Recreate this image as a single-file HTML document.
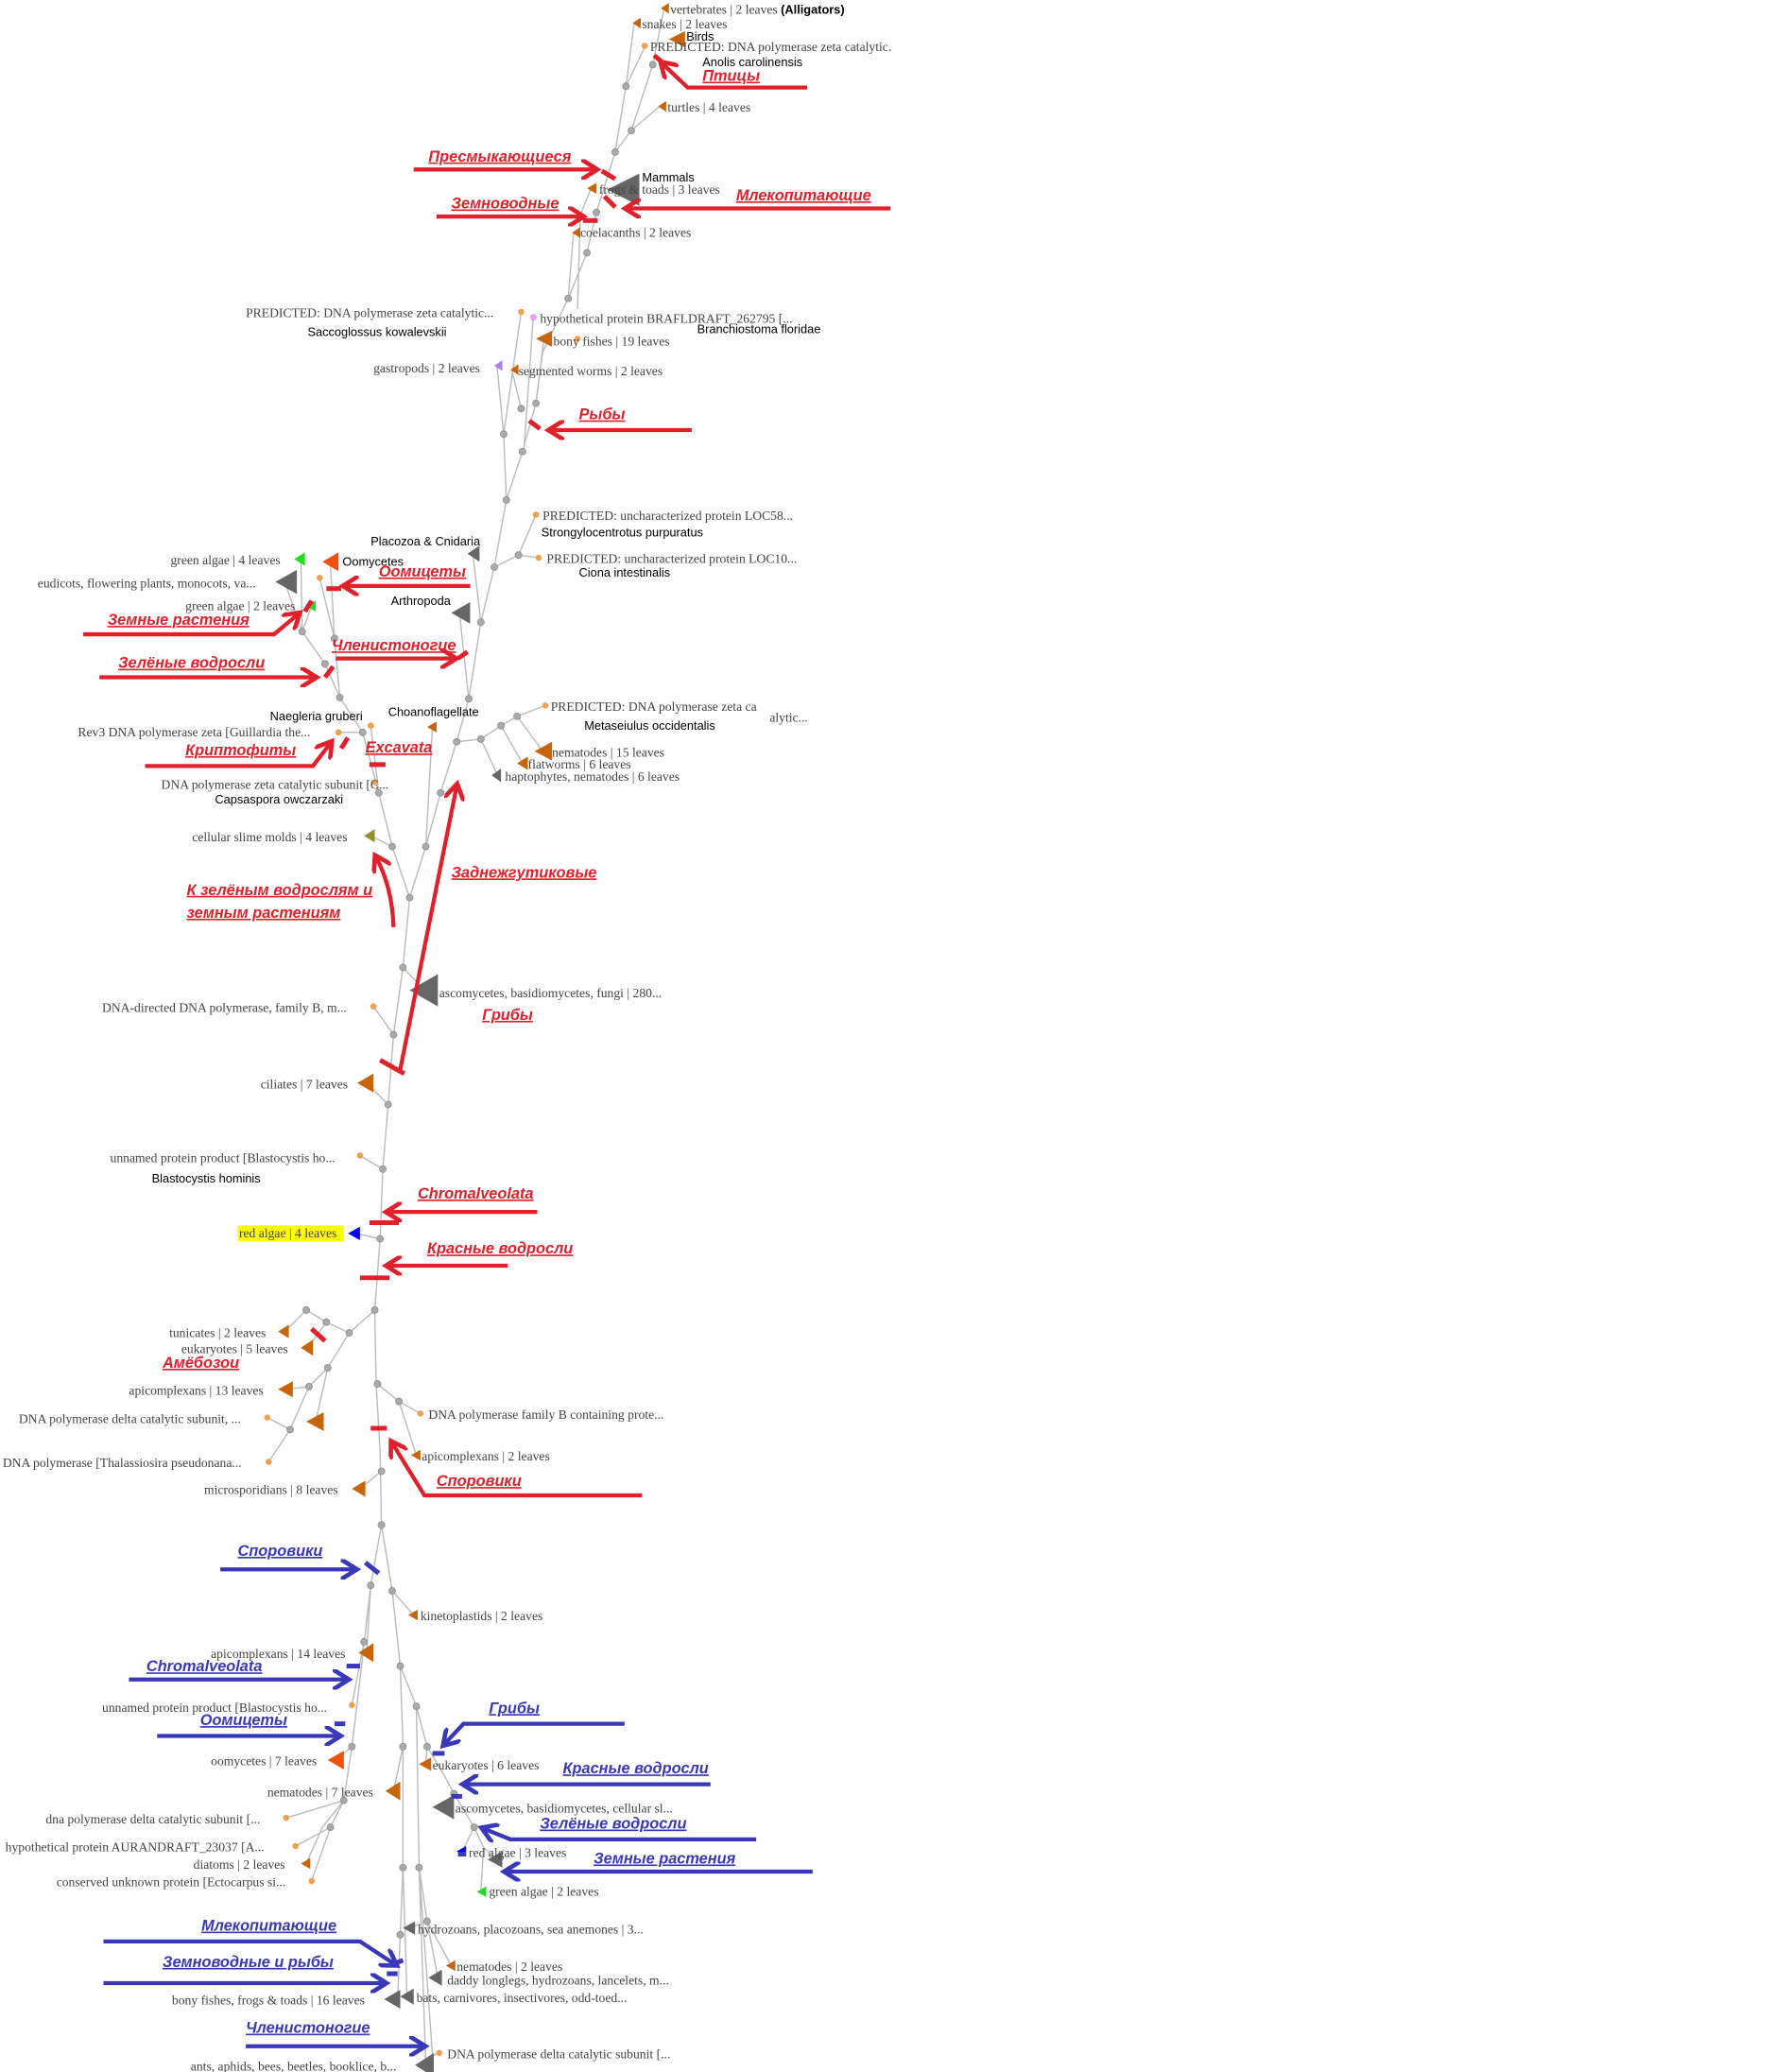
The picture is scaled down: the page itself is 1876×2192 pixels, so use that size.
<!DOCTYPE html>
<html><head><meta charset="utf-8"><style>
html,body{margin:0;padding:0;background:#fff;}
svg{display:block;}
.t{font-family:"Liberation Serif",serif;font-size:9.6px;fill:#444;}
.b{font-family:"Liberation Sans",sans-serif;font-size:9px;fill:#000;}
.r{font-family:"Liberation Sans",sans-serif;font-size:11.5px;font-weight:bold;font-style:italic;fill:#e0202a;text-decoration:underline;}
.u{font-family:"Liberation Sans",sans-serif;font-size:11.5px;font-weight:bold;font-style:italic;fill:#3838b8;text-decoration:underline;}
.ln{stroke:#bbb;stroke-width:1;fill:none;}
.ra{stroke:#e0202a;stroke-width:3;fill:none;}
.ba{stroke:#3838b8;stroke-width:3;fill:none;}
.rd{stroke:#e0202a;stroke-width:3.5;}
.bd{stroke:#3838b8;stroke-width:3.5;}
</style></head><body>
<svg width="1876" height="2192" viewBox="0 0 1320 1542" xmlns="http://www.w3.org/2000/svg">
<defs>
<marker id="mr" markerWidth="5" markerHeight="5" refX="3.4" refY="2.5" orient="auto" markerUnits="strokeWidth"><path d="M0,0 L4,2.5 L0,5" fill="none" stroke="#e0202a" stroke-width="1.1"/></marker>
<marker id="mb" markerWidth="5" markerHeight="5" refX="3.4" refY="2.5" orient="auto" markerUnits="strokeWidth"><path d="M0,0 L4,2.5 L0,5" fill="none" stroke="#3838b8" stroke-width="1.1"/></marker>
</defs>
<path class="ln" d="M494,8 L486,48 L470,97 L458,113 M472,18 L466,64 L458,113 M480,35 L466,64 M491,79 L470,97 M458,113 L444,158 L437,188 L423,222 L404,262 M440,140 L432,160 L430,230 M427,173 L423,222
M404,262 L399,300 L389,336 L377,372 L368,422 L358,463 L349,520 L340,552 L328,590 L317,630 L305,668 L300,720 L293,770 L289,822 L285,870 L283,922 L279,975 L280,1030 L283,1080 L284,1135
M388,232 L375,323 L377,372 M397,236 L390,336 M381,275 L388,304 M405,252 L399,300 M370,272 L375,323
M368,422 L386,413 L399,383 M386,413 L401,415 M352,412 L358,463 M342,455 L349,520
M224,416 L225,470 L242,494 L253,519 M212,433 L225,470 M232,451 L225,470 M246,420 L249,475 L253,519 M238,430 L249,475 M253,519 L270,545 L282,590 L292,630 L305,668 M252,545 L270,545 M276,540 L282,590
M340,552 L358,550 L373,540 L385,533 L406,525 M373,540 L389,568 M385,533 L404,559 M358,550 L370,576 M322,540 L317,630 M279,582 L282,590 M276,622 L292,630 M316,737 L300,720 M278,749 L293,770 M273,806 L289,822 M268,860 L285,870 M265,918 L283,922
M279,975 L260,992 L243,984 L228,975 L212,991 M230,1002 L243,984 M260,992 L244,1018 L230,1032 L213,1034 M230,1032 L216,1064 L199,1055 M216,1064 L200,1088 M244,1018 L235,1058 M281,1030 L297,1043 L313,1052 M297,1043 L310,1083 M268,1108 L284,1095
M284,1135 L276,1180 L268,1250 L262,1300 L256,1340 L246,1360 L232,1400 M276,1180 L273,1230 M271,1222 L262,1269 M262,1300 L250,1310 M256,1340 L213,1353 M246,1360 L220,1374 M256,1340 L240,1360 L228,1387
M284,1135 L292,1184 L308,1202 M292,1184 L298,1240 L310,1270 L318,1300 L330,1320 L338,1335 L353,1360 L360,1375 L358,1408 M318,1300 L317,1313 M338,1335 L330,1345 M353,1360 L344,1378 M360,1375 L369,1384
M298,1240 L300,1300 L300,1390 L298,1440 L296,1488 M300,1300 L293,1333 M300,1390 L303,1486 M310,1270 L312,1390 L318,1430 L326,1472 M318,1430 L305,1435 M312,1390 L322,1530 L327,1528 M318,1430 L336,1463 M312,1390 L317,1537"/>
<g fill="#aaa" stroke="#888" stroke-width="0.5">
<circle cx="466" cy="64" r="2.5"/><circle cx="486" cy="48" r="2.5"/><circle cx="470" cy="97" r="2.5"/><circle cx="458" cy="113" r="2.5"/><circle cx="444" cy="158" r="2.5"/><circle cx="437" cy="188" r="2.5"/><circle cx="423" cy="222" r="2.5"/><circle cx="399" cy="300" r="2.5"/><circle cx="389" cy="336" r="2.5"/><circle cx="375" cy="323" r="2.5"/><circle cx="388" cy="304" r="2.5"/><circle cx="377" cy="372" r="2.5"/><circle cx="368" cy="422" r="2.5"/><circle cx="386" cy="413" r="2.5"/><circle cx="358" cy="463" r="2.5"/><circle cx="349" cy="520" r="2.5"/><circle cx="340" cy="552" r="2.5"/><circle cx="358" cy="550" r="2.5"/><circle cx="373" cy="540" r="2.5"/><circle cx="385" cy="533" r="2.5"/><circle cx="225" cy="470" r="2.5"/><circle cx="249" cy="475" r="2.5"/><circle cx="242" cy="494" r="2.5"/><circle cx="253" cy="519" r="2.5"/><circle cx="270" cy="545" r="2.5"/><circle cx="282" cy="590" r="2.5"/><circle cx="328" cy="590" r="2.5"/><circle cx="292" cy="630" r="2.5"/><circle cx="317" cy="630" r="2.5"/><circle cx="305" cy="668" r="2.5"/><circle cx="300" cy="720" r="2.5"/><circle cx="293" cy="770" r="2.5"/><circle cx="289" cy="822" r="2.5"/><circle cx="285" cy="870" r="2.5"/><circle cx="283" cy="922" r="2.5"/><circle cx="279" cy="975" r="2.5"/><circle cx="260" cy="992" r="2.5"/><circle cx="243" cy="984" r="2.5"/><circle cx="228" cy="975" r="2.5"/><circle cx="244" cy="1018" r="2.5"/><circle cx="230" cy="1032" r="2.5"/><circle cx="216" cy="1064" r="2.5"/><circle cx="281" cy="1030" r="2.5"/><circle cx="297" cy="1043" r="2.5"/><circle cx="284" cy="1095" r="2.5"/><circle cx="284" cy="1135" r="2.5"/><circle cx="276" cy="1180" r="2.5"/><circle cx="292" cy="1184" r="2.5"/><circle cx="271" cy="1222" r="2.5"/><circle cx="298" cy="1240" r="2.5"/><circle cx="262" cy="1300" r="2.5"/><circle cx="310" cy="1270" r="2.5"/><circle cx="300" cy="1300" r="2.5"/><circle cx="318" cy="1300" r="2.5"/><circle cx="256" cy="1340" r="2.5"/><circle cx="338" cy="1335" r="2.5"/><circle cx="353" cy="1360" r="2.5"/><circle cx="246" cy="1360" r="2.5"/><circle cx="300" cy="1390" r="2.5"/><circle cx="312" cy="1390" r="2.5"/><circle cx="318" cy="1430" r="2.5"/><circle cx="298" cy="1440" r="2.5"/>
</g>
<g fill="#f0a050"><circle cx="480" cy="34" r="2.3"/><circle cx="388" cy="232" r="2.3"/><circle cx="430" cy="252" r="2.3"/><circle cx="399" cy="383" r="2.3"/><circle cx="401" cy="415" r="2.3"/><circle cx="238" cy="430" r="2.3"/><circle cx="276" cy="540" r="2.3"/><circle cx="406" cy="525" r="2.3"/><circle cx="252" cy="545" r="2.3"/><circle cx="279" cy="582" r="2.3"/><circle cx="278" cy="749" r="2.3"/><circle cx="268" cy="860" r="2.3"/><circle cx="199" cy="1055" r="2.3"/><circle cx="313" cy="1052" r="2.3"/><circle cx="200" cy="1088" r="2.3"/><circle cx="262" cy="1269" r="2.3"/><circle cx="213" cy="1353" r="2.3"/><circle cx="220" cy="1374" r="2.3"/><circle cx="232" cy="1400" r="2.3"/><circle cx="327" cy="1528" r="2.3"/></g>
<circle cx="397" cy="236" r="2.5" fill="#f0a0f0"/>
<g fill="#c8640a">
<polygon points="492,6 498,2 498,10"/><polygon points="471,17 477,13 477,21"/><polygon points="498,29 510,23 510,35"/><polygon points="490,79 496,75 496,83"/><polygon points="437,140 444,136 444,144"/><polygon points="426,173 432,169 432,177"/><polygon points="399,252 411,246 411,258"/><polygon points="380,275 386,271 386,279"/><polygon points="318,541 325,537 325,545"/><polygon points="398,559 411,552 411,566"/><polygon points="385,568 393,563 393,573"/><polygon points="266,806 278,799 278,813"/><polygon points="207,991 215,986 215,996"/><polygon points="224,1003 233,997 233,1009"/><polygon points="207,1034 218,1028 218,1040"/><polygon points="228,1058 241,1051 241,1065"/><polygon points="306,1083 313,1079 313,1087"/><polygon points="262,1108 272,1102 272,1114"/><polygon points="304,1202 311,1198 311,1206"/><polygon points="267,1230 278,1223 278,1237"/><polygon points="312,1313 321,1308 321,1318"/><polygon points="287,1333 298,1326 298,1340"/><polygon points="224,1387 231,1383 231,1391"/><polygon points="332,1463 339,1459 339,1467"/>
</g>
<polygon points="368,272 374,268 374,276" fill="#b080f0"/>
<g fill="#22dd22"><polygon points="219,416 227,411 227,421"/><polygon points="228,451 235,447 235,455"/><polygon points="355,1408 362,1404 362,1412"/></g>
<g fill="#f05010"><polygon points="240,418 252,411 252,425"/><polygon points="244,1310 256,1303 256,1317"/></g>
<polygon points="271,622 279,617 279,627" fill="#909030"/>
<g fill="#0000ee"><polygon points="259,918 268,913 268,923"/><polygon points="340,1378 347,1374 347,1382"/></g>
<g fill="#666">
<polygon points="452,141 476,129 476,153"/><polygon points="348,412 357,406 357,418"/><polygon points="205,433 221,424 221,442"/><polygon points="336,456 350,448 350,464"/><polygon points="366,577 373,572 373,582"/><polygon points="305,737 326,725 326,749"/><polygon points="322,1345 338,1336 338,1354"/><polygon points="363,1384 374,1378 374,1390"/><polygon points="300,1435 309,1430 309,1440"/><polygon points="319,1472 329,1466 329,1478"/><polygon points="286,1488 298,1481 298,1495"/><polygon points="298,1486 308,1480 308,1492"/><polygon points="309,1537 323,1528 323,1546"/>
</g>
<g class="t">
<text x="499" y="10">vertebrates | 2 leaves <tspan class="b" style="font-weight:bold" font-size="9.5">(Alligators)</tspan></text>
<text x="478" y="21">snakes | 2 leaves</text>
<text x="484" y="38">PREDICTED: DNA polymerase zeta catalytic.</text>
<text x="497" y="83">turtles | 4 leaves</text>
<text x="446" y="144">frogs &amp; toads | 3 leaves</text>
<text x="432" y="176">coelacanths | 2 leaves</text>
<text x="183" y="236">PREDICTED: DNA polymerase zeta catalytic...</text>
<text x="402" y="240">hypothetical protein BRAFLDRAFT_262795 [...</text>
<text x="412" y="257">bony fishes | 19 leaves</text>
<text x="278" y="277">gastropods | 2 leaves</text>
<text x="386" y="279">segmented worms | 2 leaves</text>
<text x="404" y="387">PREDICTED: uncharacterized protein LOC58...</text>
<text x="407" y="419">PREDICTED: uncharacterized protein LOC10...</text>
<text x="127" y="420">green algae | 4 leaves</text>
<text x="28" y="437">eudicots, flowering plants, monocots, va...</text>
<text x="138" y="454">green algae | 2 leaves</text>
<text x="410" y="529">PREDICTED: DNA polymerase zeta ca</text>
<text x="573" y="537">alytic...</text>
<text x="58" y="548">Rev3 DNA polymerase zeta [Guillardia the...</text>
<text x="411" y="563">nematodes | 15 leaves</text>
<text x="393" y="572">flatworms | 6 leaves</text>
<text x="376" y="581">haptophytes, nematodes | 6 leaves</text>
<text x="120" y="587">DNA polymerase zeta catalytic subunit [C...</text>
<text x="143" y="626">cellular slime molds | 4 leaves</text>
<text x="327" y="742">ascomycetes, basidiomycetes, fungi | 280...</text>
<text x="76" y="753">DNA-directed DNA polymerase, family B, m...</text>
<text x="194" y="810">ciliates | 7 leaves</text>
<text x="82" y="865">unnamed protein product [Blastocystis ho...</text>
<text x="126" y="995">tunicates | 2 leaves</text>
<text x="135" y="1007">eukaryotes | 5 leaves</text>
<text x="96" y="1038">apicomplexans | 13 leaves</text>
<text x="14" y="1059">DNA polymerase delta catalytic subunit, ...</text>
<text x="319" y="1056">DNA polymerase family B containing prote...</text>
<text x="314" y="1087">apicomplexans | 2 leaves</text>
<text x="2" y="1092">DNA polymerase [Thalassiosira pseudonana...</text>
<text x="152" y="1112">microsporidians | 8 leaves</text>
<text x="313" y="1206">kinetoplastids | 2 leaves</text>
<text x="157" y="1234">apicomplexans | 14 leaves</text>
<text x="76" y="1274">unnamed protein product [Blastocystis ho...</text>
<text x="157" y="1314">oomycetes | 7 leaves</text>
<text x="322" y="1317">eukaryotes | 6 leaves</text>
<text x="199" y="1337">nematodes | 7 leaves</text>
<text x="339" y="1349">ascomycetes, basidiomycetes, cellular sl...</text>
<text x="34" y="1357">dna polymerase delta catalytic subunit [...</text>
<text x="4" y="1378">hypothetical protein AURANDRAFT_23037 [A...</text>
<text x="349" y="1382">red algae | 3 leaves</text>
<text x="144" y="1391">diatoms | 2 leaves</text>
<text x="42" y="1404">conserved unknown protein [Ectocarpus si...</text>
<text x="364" y="1411">green algae | 2 leaves</text>
<text x="311" y="1439">hydrozoans, placozoans, sea anemones | 3...</text>
<text x="340" y="1467">nematodes | 2 leaves</text>
<text x="333" y="1477">daddy longlegs, hydrozoans, lancelets, m...</text>
<text x="128" y="1492">bony fishes, frogs &amp; toads | 16 leaves</text>
<text x="310" y="1490">bats, carnivores, insectivores, odd-toed...</text>
<text x="333" y="1532">DNA polymerase delta catalytic subunit [...</text>
<text x="142" y="1541">ants, aphids, bees, beetles, booklice, b...</text>
</g>
<rect x="177" y="912" width="79" height="12" fill="#ffff00"/>
<text class="t" x="178" y="921">red algae | 4 leaves</text>
<g class="b">
<text x="511" y="30">Birds</text>
<text x="523" y="49">Anolis carolinensis</text>
<text x="478" y="135">Mammals</text>
<text x="229" y="250">Saccoglossus kowalevskii</text>
<text x="519" y="248">Branchiostoma floridae</text>
<text x="403" y="399">Strongylocentrotus purpuratus</text>
<text x="276" y="406">Placozoa &amp; Cnidaria</text>
<text x="255" y="421">Oomycetes</text>
<text x="431" y="429">Ciona intestinalis</text>
<text x="291" y="450">Arthropoda</text>
<text x="201" y="536">Naegleria gruberi</text>
<text x="289" y="533">Choanoflagellate</text>
<text x="435" y="543">Metaseiulus occidentalis</text>
<text x="160" y="598">Capsaspora owczarzaki</text>
<text x="113" y="880">Blastocystis hominis</text>
</g>
<g class="r">
<text x="523" y="60">Птицы</text>
<text x="319" y="120">Пресмыкающиеся</text>
<text x="548" y="149">Млекопитающие</text>
<text x="336" y="155">Земноводные</text>
<text x="431" y="312">Рыбы</text>
<text x="282" y="429">Оомицеты</text>
<text x="80" y="465">Земные растения</text>
<text x="247" y="484">Членистоногие</text>
<text x="88" y="497">Зелёные водросли</text>
<text x="138" y="562">Криптофиты</text>
<text x="272" y="560">Excavata</text>
<text x="336" y="653">Заднежгутиковые</text>
<text x="139" y="666">К зелёным водрослям и</text>
<text x="139" y="683">земным растениям</text>
<text x="359" y="759">Грибы</text>
<text x="311" y="892">Chromalveolata</text>
<text x="318" y="933">Красные водросли</text>
<text x="121" y="1018">Амёбозои</text>
<text x="325" y="1106">Споровики</text>
</g>
<g class="ra">
<path d="M601,65 L512,65 L493,47" marker-end="url(#mr)"/>
<path d="M308,126 L443,126" marker-end="url(#mr)"/>
<path d="M663,155 L467,155" marker-end="url(#mr)"/>
<path d="M325,161 L433,161" marker-end="url(#mr)"/>
<path d="M515,320 L410,320" marker-end="url(#mr)"/>
<path d="M350,436 L257,436" marker-end="url(#mr)"/>
<path d="M62,472 L204,472 L222,457" marker-end="url(#mr)"/>
<path d="M250,490 L338,490" marker-end="url(#mr)"/>
<path d="M74,504 L234,504" marker-end="url(#mr)"/>
<path d="M108,570 L233,570 L246,553" marker-end="url(#mr)"/>
<path d="M298,796 L317,700 L340,585" marker-end="url(#mr)"/>
<path d="M293,690 Q292,660 280,638" marker-end="url(#mr)"/>
<path d="M400,902 L289,902" marker-end="url(#mr)"/>
<path d="M378,942 L289,942" marker-end="url(#mr)"/>
<path d="M478,1113 L316,1113 L292,1074" marker-end="url(#mr)"/>
</g>
<g class="rd">
<line x1="487" y1="41" x2="494" y2="47"/><line x1="448" y1="127" x2="458" y2="133"/><line x1="450" y1="146" x2="458" y2="154"/><line x1="434" y1="164" x2="445" y2="164"/><line x1="394" y1="313" x2="402" y2="319"/><line x1="243" y1="438" x2="254" y2="438"/><line x1="227" y1="455" x2="232" y2="447"/><line x1="341" y1="490" x2="348" y2="485"/><line x1="242" y1="504" x2="248" y2="496"/><line x1="254" y1="557" x2="259" y2="549"/><line x1="275" y1="569" x2="287" y2="569"/><line x1="283" y1="789" x2="301" y2="799"/><line x1="275" y1="910" x2="297" y2="910"/><line x1="268" y1="951" x2="290" y2="951"/><line x1="232" y1="989" x2="242" y2="998"/><line x1="276" y1="1063" x2="288" y2="1063"/>
</g>
<g class="u">
<text x="177" y="1158">Споровики</text>
<text x="109" y="1244">Chromalveolata</text>
<text x="364" y="1275">Грибы</text>
<text x="149" y="1284">Оомицеты</text>
<text x="419" y="1320">Красные водросли</text>
<text x="402" y="1361">Зелёные водросли</text>
<text x="442" y="1387">Земные растения</text>
<text x="150" y="1437">Млекопитающие</text>
<text x="121" y="1464">Земноводные и рыбы</text>
<text x="183" y="1513">Членистоногие</text>
</g>
<g class="ba">
<path d="M164,1168 L264,1168" marker-end="url(#mb)"/>
<path d="M96,1250 L258,1250" marker-end="url(#mb)"/>
<path d="M465,1283 L345,1283 L331,1298" marker-end="url(#mb)"/>
<path d="M117,1292 L252,1292" marker-end="url(#mb)"/>
<path d="M529,1328 L346,1328" marker-end="url(#mb)"/>
<path d="M563,1369 L380,1369 L360,1361" marker-end="url(#mb)"/>
<path d="M605,1393 L377,1393" marker-end="url(#mb)"/>
<path d="M77,1445 L268,1445 L294,1462" marker-end="url(#mb)"/>
<path d="M77,1476 L286,1476" marker-end="url(#mb)"/>
<path d="M183,1523 L315,1523" marker-end="url(#mb)"/>
</g>
<g class="bd">
<line x1="272" y1="1163" x2="282" y2="1171"/><line x1="258" y1="1240" x2="268" y2="1240"/><line x1="322" y1="1305" x2="331" y2="1305"/><line x1="249" y1="1283" x2="257" y2="1283"/><line x1="336" y1="1337" x2="344" y2="1337"/><line x1="341" y1="1380" x2="347" y2="1380"/><line x1="292" y1="1462" x2="300" y2="1459"/><line x1="288" y1="1469" x2="296" y2="1469"/>
</g>
</svg>
</body></html>
